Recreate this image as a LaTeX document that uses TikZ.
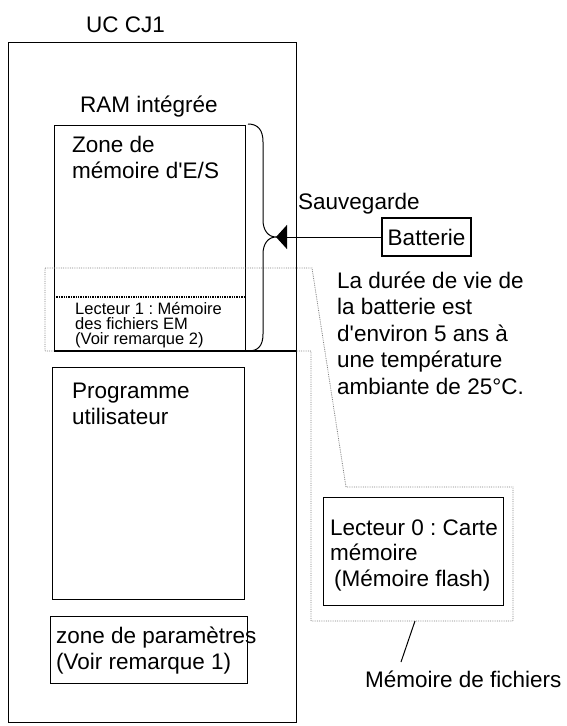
\documentclass[tikz,border=0pt]{standalone}
\usepackage{fontspec}
\setmainfont{Liberation Sans}
\usetikzlibrary{arrows.meta}
\frenchspacing
\tikzset{
  box/.style={draw, line width=1.2pt, inner sep=0pt, anchor=north west},
  txt/.style={anchor=base west, inner sep=0pt, align=left, font=\fontsize{22.5}{26.5}\selectfont},
  small/.style={anchor=base west, inner sep=0pt, align=left, font=\fontsize{16.5}{15.3}\selectfont},
  fileline/.style={draw=gray, densely dotted, line width=0.8pt},
  conn/.style={line width=1pt},
}
\begin{document}
\frenchspacing
\begin{tikzpicture}[x=1pt,y=-1pt]
\useasboundingbox (0,0) rectangle (567,726);
% boxes
\node[box, minimum width=288pt, minimum height=680pt] (cpu) at (8,42) {};
\node[box, minimum width=191pt, minimum height=226pt] (zone) at (54,125) {};
\node[box, minimum width=192pt, minimum height=232pt] (prog) at (52,367) {};
\node[box, minimum width=197pt, minimum height=67pt] (param) at (50,616) {};
\node[box, minimum width=180pt, minimum height=108pt] (lect0) at (323,497) {};
\node[draw, line width=1.2pt, inner sep=0pt, minimum width=89pt, minimum height=38pt,
      font=\fontsize{22.5}{26.5}\selectfont] (batt) at (426.5,237) {Batterie};
% file memory dotted outline
\draw[fileline] (45,268) -- (312,268) -- (346,487) -- (513,487) -- (513,621)
  -- (311,621) -- (311,351) -- (45,351) -- cycle;
% separator and thick bottom line
\draw[densely dotted, line width=1.4pt] (54,297) -- (245,297);
\draw[line width=2.2pt] (54,351) -- (296,351);
% brace
\coordinate (bracetip) at (276,237);
\draw[conn] (248,124) .. controls (258,124) and (263,130) .. (263,142) -- (263,220)
  .. controls (263,230) and (268,237) .. (bracetip)
  .. controls (268,237) and (263,244) .. (263,254) -- (263,334)
  .. controls (263,346) and (258,351) .. (248,351);
\draw[conn, -{Triangle[length=11pt,width=24pt]}] (batt.west) -- (bracetip);
% texts (multi-line nodes: base = last line's baseline)
\node[txt] (tcpu) at (86,32) {UC CJ1};
\node[txt] (tram) at (80,112) {RAM intégrée};
\node[txt] (tzone) at (72,178.5) {Zone de\\mémoire d\textquotesingle E/S};
\node[small] (tlect1) at (75,344.6) {Lecteur 1 : Mémoire\\des fichiers EM\\(Voir remarque 2)};
\node[txt] (tprog) at (72,424.5) {Programme\\utilisateur};
\node[txt] (tparam) at (56,669.5) {zone de paramètres\\(Voir remarque 1)};
\node[txt] (tsauv) at (298,209) {Sauvegarde};
\node[txt] (tnote) at (337,394) {La durée de vie de\\la batterie est\\d\textquotesingle environ 5 ans à\\une température\\ambiante de 25°C.};
\node[txt, font=\fontsize{22.5}{25.5}\selectfont] (tlect0) at (330,586) {Lecteur 0 : Carte\\mémoire\\\hspace{4pt}(Mémoire flash)};
\node[txt] (tfich) at (365,687) {Mémoire de fichiers};
\coordinate (s1) at (415,621);
\coordinate (s2) at (401,662);
\draw[conn] (s1) -- (s2);
\end{tikzpicture}
\end{document}
